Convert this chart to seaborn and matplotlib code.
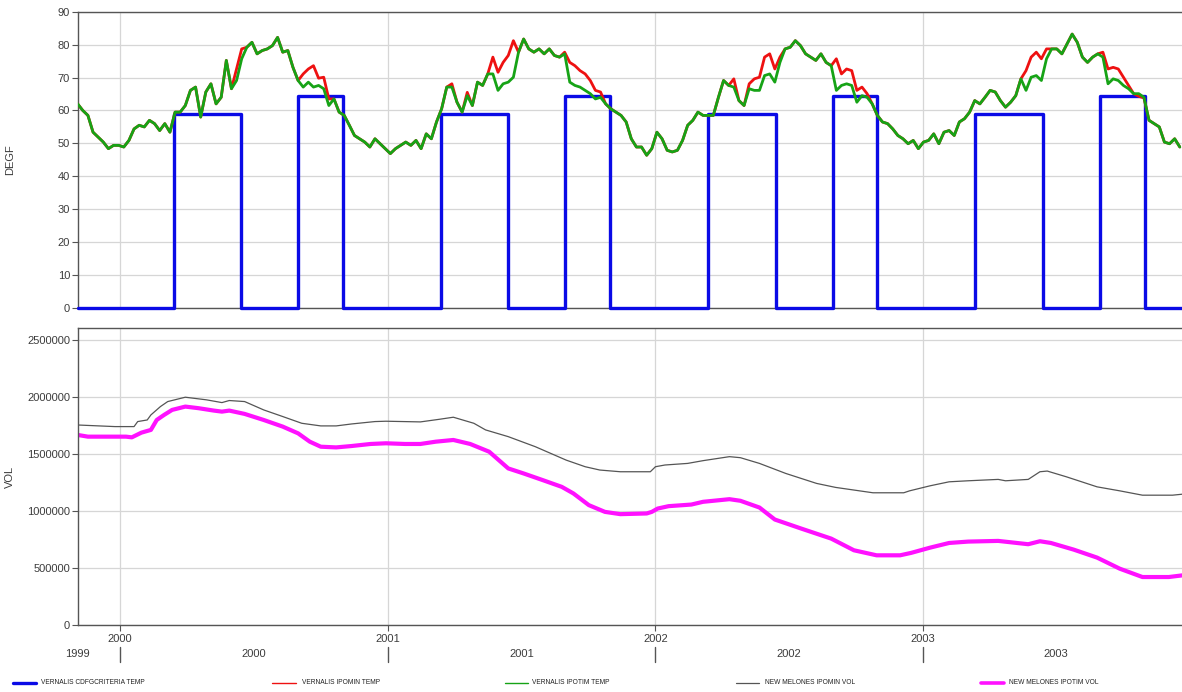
import matplotlib
matplotlib.use("Agg")
import numpy as np
import pandas as pd
import seaborn as sns
import matplotlib.pyplot as plt
from matplotlib import transforms
from matplotlib.lines import Line2D
from matplotlib.ticker import FuncFormatter

# ---------------- data ----------------
# weekly temperature readings starting 1999-11-04 (DEGF)
temp_start = "1999-11-04"
ipotim_temp = [
    62.0, 60.0, 58.5, 53.4, 51.9, 50.4, 48.4, 49.4, 49.4, 48.9,
    50.9, 54.4, 55.5, 55.0, 57.0, 56.0, 53.9, 56.0, 53.4, 59.5,
    59.5, 61.5, 66.1, 67.1, 58.0, 65.6, 68.1, 62.0, 64.0, 75.2,
    66.6, 69.1, 75.7, 79.2, 80.7, 77.2, 78.2, 78.7, 79.7, 82.2,
    77.7, 78.2, 73.1, 69.1, 67.1, 68.6, 67.1, 67.6, 66.6, 61.5,
    63.5, 59.5, 58.5, 55.5, 52.4, 51.4, 50.4, 48.9, 51.4, 49.9,
    48.4, 46.9, 48.4, 49.4, 50.4, 49.4, 50.9, 48.4, 52.9, 51.4,
    56.5, 60.5, 67.1, 67.1, 62.5, 59.5, 64.5, 61.5, 68.6, 67.6,
    71.1, 71.1, 66.1, 68.1, 68.6, 70.1, 77.7, 81.7, 78.7, 77.7,
    78.7, 77.2, 78.7, 76.7, 76.2, 77.2, 68.6, 67.6, 67.1, 66.1,
    65.1, 63.5, 64.0, 62.0, 60.5, 59.5, 58.5, 56.5, 51.4, 48.9,
    48.9, 46.4, 48.4, 53.4, 51.4, 47.9, 47.4, 47.9, 50.9, 55.5,
    57.0, 59.5, 58.5, 58.5, 58.5, 64.0, 69.1, 67.6, 67.1, 63.0,
    61.5, 66.6, 66.1, 66.1, 70.6, 71.1, 68.6, 74.6, 78.7, 79.2,
    81.2, 79.7, 77.2, 76.2, 75.2, 77.2, 74.6, 73.6, 66.1, 67.6,
    68.1, 67.6, 62.5, 64.5, 64.0, 62.0, 58.5, 56.5, 56.0, 54.4,
    52.4, 51.4, 49.9, 50.9, 48.4, 50.4, 50.9, 52.9, 49.9, 53.4,
    53.9, 52.4, 56.5, 57.5, 59.5, 63.0, 62.0, 64.0, 66.1, 65.6,
    63.0, 61.0, 62.5, 64.5, 69.6, 66.1, 70.1, 70.6, 69.1, 75.7,
    78.7, 78.7, 77.2, 80.2, 83.2, 80.7, 76.2, 74.6, 76.2, 77.2,
    76.2, 68.1, 69.6, 69.1, 67.6, 66.6, 65.1, 65.1, 64.0, 57.0,
    56.0, 55.0, 50.4, 49.9, 51.4, 48.9,
]
ipomin_temp = [
    62.0, 60.0, 58.5, 53.4, 51.9, 50.4, 48.4, 49.4, 49.4, 48.9,
    50.9, 54.4, 55.5, 55.0, 57.0, 56.0, 53.9, 56.0, 53.4, 59.5,
    59.5, 61.5, 66.1, 67.1, 58.0, 65.6, 68.1, 62.0, 64.0, 75.2,
    66.6, 72.6, 78.7, 79.2, 80.7, 77.2, 78.2, 78.7, 79.7, 82.2,
    77.7, 78.2, 73.1, 69.1, 71.1, 72.6, 73.6, 69.8, 70.1, 63.5,
    63.5, 59.5, 58.5, 55.5, 52.4, 51.4, 50.4, 48.9, 51.4, 49.9,
    48.4, 46.9, 48.4, 49.4, 50.4, 49.4, 50.9, 48.4, 52.9, 51.4,
    56.5, 60.5, 67.1, 68.1, 62.5, 59.5, 65.5, 61.5, 68.6, 67.6,
    71.1, 76.2, 71.6, 74.6, 76.7, 81.2, 77.7, 81.7, 78.7, 77.7,
    78.7, 77.2, 78.7, 76.7, 76.2, 77.7, 74.6, 73.6, 72.1, 71.1,
    69.1, 66.1, 65.6, 62.0, 60.5, 59.5, 58.5, 56.5, 51.4, 48.9,
    48.9, 46.4, 48.4, 53.4, 51.4, 47.9, 47.4, 47.9, 50.9, 55.5,
    57.0, 59.5, 58.5, 58.5, 58.5, 64.0, 69.1, 67.6, 69.6, 63.0,
    61.5, 68.1, 69.6, 70.1, 76.2, 77.2, 72.6, 76.2, 78.7, 79.2,
    81.2, 79.7, 77.2, 76.2, 75.2, 77.2, 74.6, 73.6, 75.7, 71.1,
    72.6, 72.1, 66.1, 67.1, 65.1, 62.0, 58.5, 56.5, 56.0, 54.4,
    52.4, 51.4, 49.9, 50.9, 48.4, 50.4, 50.9, 52.9, 49.9, 53.4,
    53.9, 52.4, 56.5, 57.5, 59.5, 63.0, 62.0, 64.0, 66.1, 65.6,
    63.0, 61.0, 62.5, 64.5, 69.6, 72.1, 76.2, 77.7, 75.7, 78.7,
    78.7, 78.7, 77.2, 80.2, 83.2, 80.7, 76.2, 74.6, 76.2, 77.2,
    77.7, 72.6, 73.1, 72.6, 70.1, 67.6, 65.1, 64.3, 63.8, 57.0,
    56.0, 55.0, 50.4, 49.9, 51.4, 48.9,
]

# CDFG criteria temperature (step series)
criteria_dates = [
    "1999-11-04", "2000-03-14", "2000-06-14", "2000-08-31", "2000-10-31",
    "2001-03-14", "2001-06-14", "2001-08-31", "2001-10-31",
    "2002-03-14", "2002-06-14", "2002-08-31", "2002-10-31",
    "2003-03-14", "2003-06-14", "2003-08-31", "2003-10-31", "2003-12-21",
]
criteria_temp = [
    0, 59, 0, 64.5, 0,
    59, 0, 64.5, 0,
    59, 0, 64.5, 0,
    59, 0, 64.5, 0, 0,
]

# New Melones storage (VOL)
ipomin_vol_dates = [
    "1999-11-04", "1999-12-25", "2000-01-20", "2000-01-25", "2000-02-07",
    "2000-02-12", "2000-02-25", "2000-03-06", "2000-03-30", "2000-04-28",
    "2000-05-19", "2000-05-29", "2000-06-19", "2000-07-15", "2000-08-10",
    "2000-09-05", "2000-10-01", "2000-10-22", "2000-11-12", "2000-12-14",
    "2000-12-29", "2001-02-14", "2001-03-12", "2001-03-31", "2001-04-28",
    "2001-05-14", "2001-06-14", "2001-07-21", "2001-09-01", "2001-09-27",
    "2001-10-17", "2001-11-14", "2001-12-25", "2002-01-01", "2002-01-14",
    "2002-02-14", "2002-03-07", "2002-04-12", "2002-04-27", "2002-05-23",
    "2002-06-28", "2002-08-09", "2002-09-04", "2002-10-25", "2002-12-06",
    "2002-12-14", "2003-01-11", "2003-02-06", "2003-03-04", "2003-04-14",
    "2003-04-24", "2003-05-25", "2003-06-10", "2003-06-20", "2003-07-16",
    "2003-08-27", "2003-09-27", "2003-10-28", "2003-12-08", "2003-12-22",
]
ipomin_vol = [
    1754000, 1740000, 1740000, 1784000, 1798000,
    1842000, 1915000, 1959000, 1997000, 1974000,
    1950000, 1968000, 1959000, 1886000, 1828000,
    1769000, 1746000, 1746000, 1763000, 1784000,
    1787000, 1781000, 1804000, 1822000, 1769000,
    1711000, 1652000, 1564000, 1447000, 1389000,
    1360000, 1345000, 1345000, 1389000, 1404000,
    1418000, 1442000, 1477000, 1468000, 1418000,
    1330000, 1243000, 1208000, 1161000, 1161000,
    1178000, 1222000, 1257000, 1266000, 1278000,
    1266000, 1278000, 1345000, 1351000, 1301000,
    1213000, 1178000, 1140000, 1140000, 1149000,
]
ipotim_vol_dates = [
    "1999-11-04", "1999-11-18", "2000-01-09", "2000-01-17", "2000-01-30",
    "2000-02-12", "2000-02-20", "2000-03-01", "2000-03-12", "2000-03-30",
    "2000-04-17", "2000-05-08", "2000-05-19", "2000-05-29", "2000-06-19",
    "2000-07-15", "2000-08-10", "2000-08-31", "2000-09-16", "2000-10-01",
    "2000-10-22", "2000-11-12", "2000-12-08", "2000-12-29", "2001-01-24",
    "2001-02-14", "2001-03-07", "2001-03-31", "2001-04-23", "2001-05-19",
    "2001-06-14", "2001-07-05", "2001-07-31", "2001-08-26", "2001-09-11",
    "2001-10-02", "2001-10-24", "2001-11-14", "2001-12-20", "2001-12-27",
    "2002-01-04", "2002-01-19", "2002-02-19", "2002-03-07", "2002-04-12",
    "2002-04-27", "2002-05-23", "2002-06-13", "2002-07-19", "2002-08-29",
    "2002-09-29", "2002-10-30", "2002-12-01", "2002-12-16", "2003-01-11",
    "2003-02-06", "2003-03-04", "2003-04-14", "2003-05-25", "2003-06-10",
    "2003-06-25", "2003-07-26", "2003-08-27", "2003-09-27", "2003-10-28",
    "2003-12-03", "2003-12-22",
]
ipotim_vol = [
    1667000, 1652000, 1652000, 1646000, 1687000,
    1711000, 1798000, 1842000, 1886000, 1915000,
    1901000, 1880000, 1871000, 1880000, 1851000,
    1798000, 1740000, 1681000, 1608000, 1564000,
    1558000, 1570000, 1588000, 1594000, 1588000,
    1588000, 1608000, 1623000, 1588000, 1520000,
    1374000, 1330000, 1272000, 1213000, 1155000,
    1053000, 994000, 974000, 980000, 994000,
    1023000, 1044000, 1058000, 1082000, 1105000,
    1091000, 1032000, 927000, 848000, 760000,
    658000, 614000, 614000, 635000, 681000,
    722000, 734000, 740000, 711000, 737000,
    722000, 664000, 594000, 497000, 424000,
    424000, 439000,
]

year_ticks = ["2000-01-01", "2001-01-01", "2002-01-01", "2003-01-01"]
year_tick_labels = ["2000", "2001", "2002", "2003"]
year_band_pos = ["1999-11-04", "2000-07-02", "2001-07-02", "2002-07-02", "2003-07-02"]
year_band_labels = ["1999", "2000", "2001", "2002", "2003"]

legend_labels = [
    "VERNALIS CDFGCRITERIA TEMP", "VERNALIS IPOMIN TEMP", "VERNALIS IPOTIM TEMP",
    "NEW MELONES IPOMIN VOL", "NEW MELONES IPOTIM VOL",
]

# ---------------- styling ----------------
sns.set_style("white")
plt.rcParams["font.family"] = ["Liberation Sans", "DejaVu Sans"]

C_BLUE = "#0a0ae6"
C_RED = "#ee1111"
C_GREEN = "#16a316"
C_GRAY = "#555555"
C_MAG = "#ff11ff"
TXT = "#3c3c3c"
GRID = "#d6d6d6"
SPINE = "#555555"

temp_dates = pd.date_range(temp_start, periods=len(ipotim_temp), freq="7D")
crit_dt = pd.to_datetime(criteria_dates)
min_vol_dt = pd.to_datetime(ipomin_vol_dates)
tim_vol_dt = pd.to_datetime(ipotim_vol_dates)
xt = pd.to_datetime(year_ticks)
xmin, xmax = pd.Timestamp("1999-11-04"), pd.Timestamp("2003-12-21")

fig = plt.figure(figsize=(11.82, 6.92), dpi=100)
ax1 = fig.add_axes([0.0657, 0.5549, 0.9343, 0.4282])
ax2 = fig.add_axes([0.0657, 0.0961, 0.9343, 0.4295])

# top panel
sns.lineplot(x=crit_dt, y=criteria_temp, ax=ax1, color=C_BLUE, lw=2.4,
             drawstyle="steps-post", legend=False, zorder=3, clip_on=False)
sns.lineplot(x=temp_dates, y=ipomin_temp, ax=ax1, color=C_RED, lw=2.0, legend=False,
             zorder=3.1)
sns.lineplot(x=temp_dates, y=ipotim_temp, ax=ax1, color=C_GREEN, lw=2.0, legend=False,
             zorder=3.2)

# bottom panel
sns.lineplot(x=min_vol_dt, y=ipomin_vol, ax=ax2, color=C_GRAY, lw=0.9, legend=False)
sns.lineplot(x=tim_vol_dt, y=ipotim_vol, ax=ax2, color=C_MAG, lw=3.0, legend=False)

for ax in (ax1, ax2):
    ax.set_xlim(xmin, xmax)
    ax.set_xticks(xt)
    ax.grid(True, color=GRID, lw=0.9)
    ax.set_axisbelow(True)
    for s in ("left", "top", "bottom"):
        ax.spines[s].set_color(SPINE)
        ax.spines[s].set_linewidth(1.0)
    ax.spines["right"].set_visible(False)
    ax.tick_params(axis="y", direction="out", length=4, width=0.8, color=SPINE,
                   labelsize=8, labelcolor=TXT, pad=1.5, left=True)
    ax.set_xlabel("")

ax1.set_ylim(0, 90)
ax1.set_yticks(range(0, 91, 10))
ax1.set_xticklabels([])
ax1.tick_params(axis="x", length=0)
ax1.set_ylabel("DEGF", fontsize=8, color=TXT)
ax1.yaxis.set_label_coords(-0.057, 0.5)

ax2.set_ylim(0, 2600000)
ax2.set_yticks(range(0, 2500001, 500000))
ax2.yaxis.set_major_formatter(FuncFormatter(lambda v, p: f"{int(v)}"))
ax2.set_xticklabels(year_tick_labels)
ax2.tick_params(axis="x", direction="out", length=4, width=0.8, color=SPINE,
                labelsize=8, labelcolor=TXT, pad=2, bottom=True)
ax2.set_ylabel("VOL", fontsize=8, color=TXT)
ax2.yaxis.set_label_coords(-0.057, 0.5)

# second row of year labels with separators
ax_h = 0.4295 * 692
trans = transforms.blended_transform_factory(ax2.transData, ax2.transAxes)
for pos, lab in zip(pd.to_datetime(year_band_pos), year_band_labels):
    ax2.text(pos, -28.5 / ax_h, lab, transform=trans, ha="center", va="center",
             fontsize=8, color=TXT, clip_on=False)
for d in xt:
    ax2.add_line(Line2D([d, d], [-21.5 / ax_h, -36.5 / ax_h], transform=trans,
                        color=SPINE, lw=1.0, clip_on=False))

# manual legend along the bottom
W, H = 1182.0, 692.0
leg_y = 1 - 683 / H
leg_items = [
    (13, 36, 41, C_BLUE, 2.4),
    (272, 296, 302, C_RED, 1.0),
    (505, 528, 532, C_GREEN, 1.0),
    (736, 759, 765, C_GRAY, 0.9),
    (981, 1004, 1009, C_MAG, 2.6),
]
for (x0, x1, tx, col, lw), lab in zip(leg_items, legend_labels):
    fig.add_artist(Line2D([x0 / W, x1 / W], [leg_y, leg_y], transform=fig.transFigure,
                          color=col, lw=lw))
    fig.text(tx / W, leg_y, lab, fontsize=4.8, color="#222222", va="center", ha="left")

fig.savefig("out.png", dpi=100)
